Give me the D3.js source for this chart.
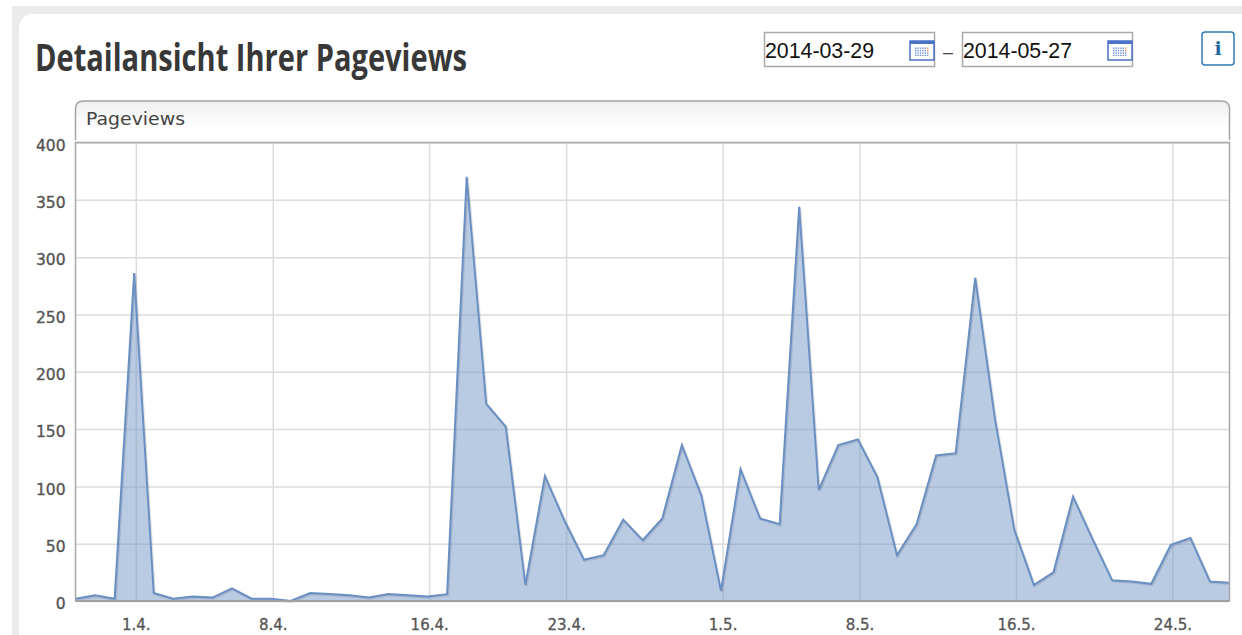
<!DOCTYPE html>
<html>
<head>
<meta charset="utf-8">
<script src="https://cdnjs.cloudflare.com/ajax/libs/d3/7.8.5/d3.min.js"></script>
<style>
    html, body { margin: 0; padding: 0; background: #fff; overflow: hidden; }
    svg { display: block; }
</style>
</head>
<body>
<script>
const startDate = '2014-03-29';
const endDate = '2014-05-27';
const pageviews = [2, 5, 2, 286, 7, 2, 4, 3, 11, 2, 2, 0, 7, 6, 5, 3, 6, 5, 4, 6,
    370, 172, 152, 14, 109, 70, 36, 40, 71, 53, 72, 136, 92, 9, 115, 72, 67, 344, 97, 136,
    141, 108, 40, 67, 127, 129, 282, 160, 62, 14, 25, 91, 54, 18, 17, 15, 49, 55, 17, 16];
const yTicks = [0, 50, 100, 150, 200, 250, 300, 350, 400];
const xTicks = ['2014-04-01', '2014-04-08', '2014-04-16', '2014-04-23', '2014-05-01', '2014-05-08', '2014-05-16', '2014-05-24'];

const W = 1242, H = 635;
const plot = {left: 75.5, right: 1229.5, top: 142.5, bottom: 601};

const svg = d3.select('body').append('svg').attr('width', W).attr('height', H);
const defs = svg.append('defs');

const tabGrad = defs.append('linearGradient').attr('id', 'tabGrad')
    .attr('x1', 0).attr('x2', 0).attr('y1', 0).attr('y2', 1);
tabGrad.append('stop').attr('offset', 0).attr('stop-color', '#efefef');
tabGrad.append('stop').attr('offset', 0.7).attr('stop-color', '#ffffff');

// grey page behind the white card
svg.append('rect').attr('x', 12).attr('y', 6).attr('width', W - 12).attr('height', H - 6).attr('fill', '#ebebeb');
svg.append('rect').attr('x', 19).attr('y', 14).attr('width', W).attr('height', H)
    .attr('rx', 14).attr('fill', '#fff');

svg.append('text')
    .attr('x', 35).attr('y', 71)
    .attr('textLength', 432).attr('lengthAdjust', 'spacingAndGlyphs')
    .style('font', 'bold 38px "Open Sans"')
    .style('fill', '#383838')
    .text('Detailansicht Ihrer Pageviews');

// date fields
function dateField (x, value) {
    const g = svg.append('g').attr('transform', `translate(${x},32)`);
    g.append('rect').attr('x', 0.5).attr('y', 0.5).attr('width', 170).attr('height', 34)
        .attr('fill', '#fff').attr('stroke', '#a9a9a9').attr('stroke-width', 1.5);
    g.append('text').attr('x', 1).attr('y', 26)
        .attr('textLength', 109).attr('lengthAdjust', 'spacingAndGlyphs')
        .style('font', '21.5px "Liberation Sans"').style('fill', '#111').text(value);

    const icon = g.append('g').attr('transform', 'translate(145,8)');
    icon.append('rect').attr('x', 1).attr('y', 1).attr('width', 24).attr('height', 19)
        .attr('fill', '#fff').attr('stroke', '#4a72c8').attr('stroke-width', 1.5);
    icon.append('rect').attr('x', 1).attr('y', 1).attr('width', 24).attr('height', 3).attr('fill', '#4a72c8');
    for (let row = 0; row < 4; row++) {
        for (let col = 0; col < 6; col++) {
            icon.append('rect').attr('x', 6 + col * 2.4).attr('y', 7.5 + row * 2.4)
                .attr('width', 1.4).attr('height', 1.4)
                .attr('fill', col === 5 && row < 2 ? '#e8864a' : '#6d8fd6');
        }
    }
}
dateField(764, startDate);
dateField(962, endDate);
svg.append('text').attr('x', 943).attr('y', 58)
    .style('font', '18px "Liberation Sans"').style('fill', '#444').text('–');

// info button
svg.append('rect').attr('x', 1202).attr('y', 32).attr('width', 32).attr('height', 33).attr('rx', 3)
    .attr('fill', '#fff').attr('stroke', '#2f7cae').attr('stroke-width', 1.5);
svg.append('text').attr('x', 1218).attr('y', 55).attr('text-anchor', 'middle')
    .style('font', 'bold 19px "DejaVu Serif"').style('fill', '#1f6a9c').text('i');

// tab above the plot
const tabPath = d3.path();
tabPath.moveTo(plot.left, 140);
tabPath.lineTo(plot.left, 109);
tabPath.quadraticCurveTo(plot.left, 101, plot.left + 8, 101);
tabPath.lineTo(plot.right - 8, 101);
tabPath.quadraticCurveTo(plot.right, 101, plot.right, 109);
tabPath.lineTo(plot.right, 140);
svg.append('path').attr('d', tabPath.toString())
    .attr('fill', 'url(#tabGrad)').attr('stroke', '#a3a3a3').attr('stroke-width', 1.5);
svg.append('text').attr('x', 86).attr('y', 125)
    .attr('textLength', 99).attr('lengthAdjust', 'spacingAndGlyphs')
    .style('font', '18px "DejaVu Sans"').style('fill', '#444').text('Pageviews');

// scales. points sit at local midnight, two hours before the UTC ticks
const parseDay = d3.utcParse('%Y-%m-%d');
const dayMs = 24 * 3600 * 1000, tzShift = 2 * 3600 * 1000;
const pointTimes = pageviews.map((d, i) => new Date(parseDay(startDate).getTime() + i * dayMs - tzShift));

const x = d3.scaleUtc().domain(d3.extent(pointTimes)).range([plot.left, plot.right]);
const y = d3.scaleLinear().domain([0, 400]).range([plot.bottom, plot.top]);

const yAxis = d3.axisLeft(y).tickValues(yTicks).tickSize(plot.left - plot.right).tickPadding(10);
const xAxis = d3.axisBottom(x).tickValues(xTicks.map(parseDay))
    .tickFormat(d3.utcFormat('%-d.%-m.'))
    .tickSize(plot.top - plot.bottom).tickPadding(0);

const gridY = svg.append('g').attr('transform', `translate(${plot.left},0)`).call(yAxis);
const gridX = svg.append('g').attr('transform', `translate(0,${plot.bottom})`).call(xAxis);

[gridY, gridX].forEach(g => {
    g.select('.domain').remove();
    g.selectAll('line').attr('stroke', '#dcdcdc').attr('stroke-width', 1.5);
});
gridY.selectAll('text')
    .style('font', '15.5px "DejaVu Sans"').style('fill', '#555')
    .style('stroke', '#555').style('stroke-width', 0.35)
    .attr('x', -10).attr('dy', '0.5em');
gridX.selectAll('text')
    .style('font', '15px "DejaVu Sans"').style('fill', '#555')
    .style('stroke', '#555').style('stroke-width', 0.3)
    .attr('y', 18).attr('dy', '0.71em');

const area = d3.area().x((d, i) => x(pointTimes[i])).y0(plot.bottom).y1(d => y(d));
const line = d3.line().x((d, i) => x(pointTimes[i])).y(d => y(d));

svg.append('path').datum(pageviews).attr('d', area)
    .attr('fill', '#7396c8').attr('fill-opacity', 0.5);
svg.append('path').datum(pageviews).attr('d', line)
    .attr('transform', 'translate(1,1)')
    .attr('fill', 'none').attr('stroke', '#000').attr('stroke-opacity', 0.1).attr('stroke-width', 2.5);
svg.append('path').datum(pageviews).attr('d', line)
    .attr('fill', 'none').attr('stroke', '#6a8fc3').attr('stroke-width', 2)
    .attr('stroke-linejoin', 'miter');

// plot frame
svg.append('path')
    .attr('d', `M${plot.left},${plot.bottom}V${plot.top}H${plot.right}V${plot.bottom}`)
    .attr('fill', 'none').attr('stroke', '#a8a8a8').attr('stroke-width', 1.5);
svg.append('line').attr('x1', plot.left).attr('x2', plot.right)
    .attr('y1', plot.bottom).attr('y2', plot.bottom)
    .attr('stroke', '#a0a0a0').attr('stroke-width', 2);
</script>
</body>
</html>
